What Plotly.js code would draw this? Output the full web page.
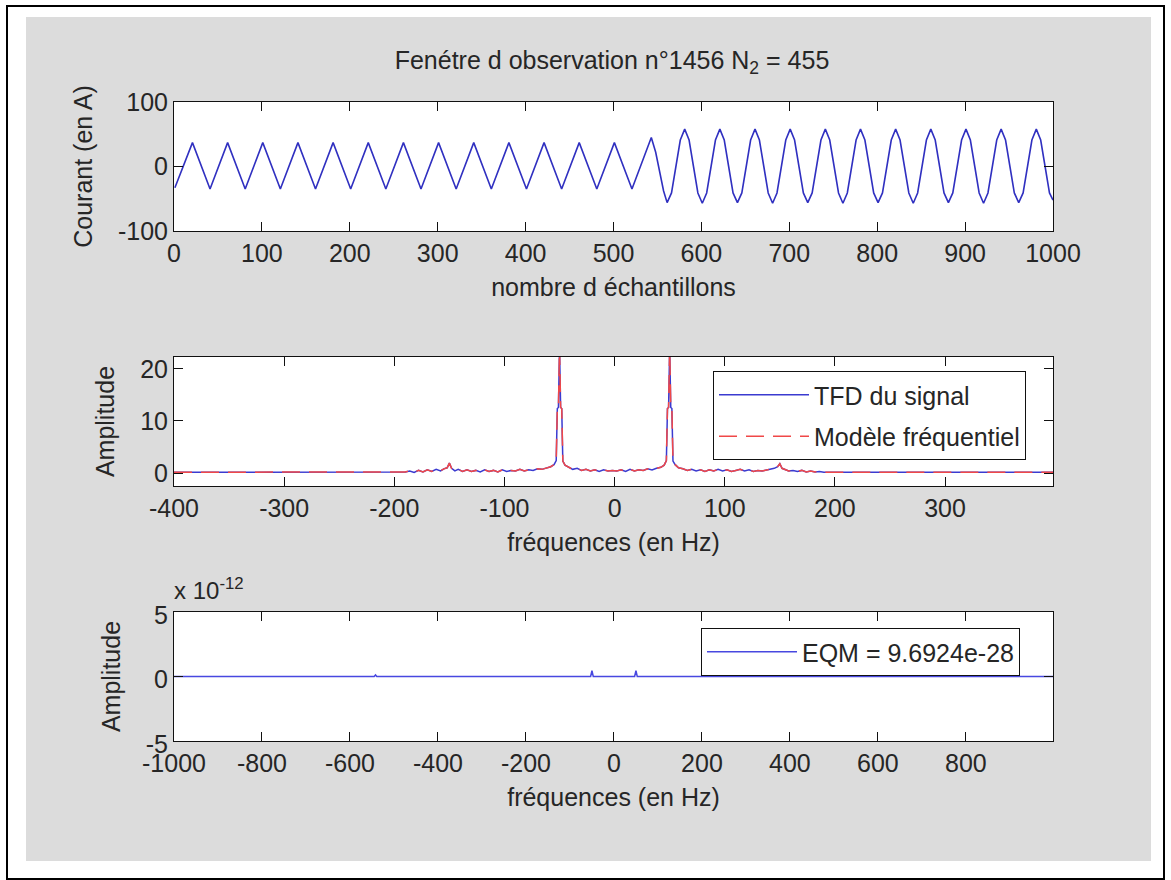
<!DOCTYPE html>
<html>
<head>
<meta charset="utf-8">
<script src="https://cdn.plot.ly/plotly-3.0.1.min.js"></script>
<style>html,body{margin:0;padding:0;background:#fff;}</style>
</head>
<body>
<div id="chart" style="width:1171px;height:880px;"></div>
<script>
// ---- Signal (top): sample index / current (A), vertices
const sigN = [1,21,41,61,81,101,121,141,161,181,201,221,241,261,281,301,321,341,361,381,401,421,441,461,481,501,521,541,543,548,553,557,
  561,566,571,576,581,586,591,596,
  601,606,611,616,621,626,631,636,
  641,646,651,656,661,666,671,676,
  681,686,691,696,701,706,711,716,
  721,726,731,736,741,746,751,756,
  761,766,771,776,781,786,791,796,
  801,806,811,816,821,826,831,836,
  841,846,851,856,861,866,871,876,
  881,886,891,896,901,906,911,916,
  921,926,931,936,941,946,951,956,
  961,966,971,976,981,986,991,996,1000];
const sigA = [-33,37,-35,37,-35,37,-35,37,-35,37,-35,37,-35,37,-35,37,-35,37,-35,37,-35,37,-35,37,-35,37,-35,38,45,22,-10,-38,
  -56,-41,0,41,58,41,0,-41,
  -57,-41,0,41,58,41,0,-41,
  -56,-41,0,41,58,41,0,-41,
  -57,-41,0,41,58,41,0,-41,
  -56,-41,0,41,58,41,0,-41,
  -57,-41,0,41,58,41,0,-41,
  -56,-41,0,41,58,41,0,-41,
  -57,-41,0,41,58,41,0,-41,
  -56,-41,0,41,58,41,0,-41,
  -57,-41,0,41,58,41,0,-41,
  -56,-41,0,41,58,41,0,-41,-52];

// ---- Spectrum (middle): frequency (Hz) / amplitude
const specF = [-400,-190,-186,-182,-178,-174,-170,-166,-162,-158,-155,-152,-150,-148,-145,-142,-138,-134,-130,-126,-122,-118,-114,-110,-106,-102,-98,-94,-90,-86,-82,-78,-74,-70,-66,-62,-58,-55,-53,-52,-51,-50,-49,-48,-47,-45,-42,-38,-34,-30,-26,-22,-18,-14,-10,-6,-2,2,6,10,14,18,22,26,30,34,38,42,45,47,48,49,50,51,52,53,55,58,62,66,70,74,78,82,86,90,94,98,102,106,110,114,118,122,126,130,134,138,142,145,148,150,152,155,158,162,166,170,174,178,182,186,190,398];
const tfdAmp = [0.15,0.2,0.4,0.1,0.5,0.2,0.6,0.3,0.7,0.4,0.8,1.0,1.9,0.9,0.4,0.7,0.3,0.6,0.3,0.5,0.2,0.6,0.3,0.5,0.2,0.6,0.3,0.5,0.4,0.7,0.4,0.6,0.5,0.8,0.7,1.0,1.2,1.6,2.4,12.4,12.6,24,12.6,12.4,2.3,1.5,1.1,0.7,0.9,0.5,0.7,0.4,0.6,0.3,0.6,0.4,0.5,0.4,0.6,0.3,0.7,0.4,0.6,0.5,0.8,0.6,0.9,1.1,1.5,2.4,12.4,12.6,24,12.6,12.4,2.3,1.6,1.0,0.8,0.5,0.7,0.4,0.6,0.3,0.6,0.4,0.7,0.4,0.6,0.3,0.5,0.7,0.4,0.6,0.3,0.5,0.4,0.6,0.7,0.9,1.2,1.8,0.9,0.6,0.4,0.5,0.3,0.5,0.2,0.4,0.2,0.3,0.15,0.15];
// the model matches the DFT (EQM ~ 1e-27), same values
const modeleAmp = [0.15,0.2,0.4,0.1,0.5,0.2,0.6,0.3,0.7,0.4,0.8,1.0,1.9,0.9,0.4,0.7,0.3,0.6,0.3,0.5,0.2,0.6,0.3,0.5,0.2,0.6,0.3,0.5,0.4,0.7,0.4,0.6,0.5,0.8,0.7,1.0,1.2,1.6,2.4,12.4,12.6,24,12.6,12.4,2.3,1.5,1.1,0.7,0.9,0.5,0.7,0.4,0.6,0.3,0.6,0.4,0.5,0.4,0.6,0.3,0.7,0.4,0.6,0.5,0.8,0.6,0.9,1.1,1.5,2.4,12.4,12.6,24,12.6,12.4,2.3,1.6,1.0,0.8,0.5,0.7,0.4,0.6,0.3,0.6,0.4,0.7,0.4,0.6,0.3,0.5,0.7,0.4,0.6,0.3,0.5,0.4,0.6,0.7,0.9,1.2,1.8,0.9,0.6,0.4,0.5,0.3,0.5,0.2,0.4,0.2,0.3,0.15,0.15];

// ---- Error spectrum (bottom): frequency (Hz) / amplitude in units of 1e-12
const errF = [-1000,-545,-542,-539,-53,-50,-47,47,50,53,998];
const errA = [0,0,0.12,0,0,0.45,0,0,0.45,0,0];

// ---- Tick values and labels (MATLAB style hyphen-minus)
const topXTicks = [0,100,200,300,400,500,600,700,800,900,1000];
const topXLabels = ['0','100','200','300','400','500','600','700','800','900','1000'];
const topYTicks = [-100,0,100];
const topYLabels = ['-100','0','100'];
const midXTicks = [-400,-300,-200,-100,0,100,200,300];
const midXLabels = ['-400','-300','-200','-100','0','100','200','300'];
const midYTicks = [0,10,20];
const midYLabels = ['0','10','20'];
const botXTicks = [-1000,-800,-600,-400,-200,0,200,400,600,800];
const botXLabels = ['-1000','-800','-600','-400','-200','0','200','400','600','800'];
const botYTicks = [-5,0,5];
const botYLabels = ['-5','0','5'];

const W = 1171, H = 880;
const FONT = '"Liberation Sans", Arial, sans-serif';
const FS = 25;
const TXT = '#262626';
const px = v => v / W;
const py = v => 1 - v / H;

function xax(range, ticks, labels, title, anchor) {
  return {
    domain: [px(174), px(1053)], range: range, anchor: anchor,
    tickmode: 'array', tickvals: ticks, ticktext: labels,
    ticks: 'inside', ticklen: 9, tickcolor: '#111', tickwidth: 1,
    mirror: 'ticks', showline: true, linecolor: '#111', linewidth: 1,
    showgrid: false, zeroline: false, tickfont: {family: FONT, size: FS, color: TXT},
    title: {text: title, font: {family: FONT, size: FS, color: TXT}, standoff: 12}
  };
}
function yax(range, ticks, labels, title, dom, anchor) {
  return {
    domain: dom, range: range, anchor: anchor,
    tickmode: 'array', tickvals: ticks, ticktext: labels,
    ticks: 'inside', ticklen: 9, tickcolor: '#111', tickwidth: 1,
    mirror: 'ticks', showline: true, linecolor: '#111', linewidth: 1,
    showgrid: false, zeroline: false, tickfont: {family: FONT, size: FS, color: TXT},
    title: {text: title, font: {family: FONT, size: FS, color: TXT}, standoff: 18}
  };
}

const traces = [
  {x: sigN, y: sigA, xaxis: 'x', yaxis: 'y', mode: 'lines', showlegend: false,
   line: {color: '#3030c0', width: 1.6}},
  {x: specF, y: tfdAmp, xaxis: 'x2', yaxis: 'y2', mode: 'lines', name: 'TFD du signal',
   legend: 'legend', legendgroup: 'a', line: {color: '#3b3bd0', width: 1.5}},
  {x: specF, y: modeleAmp, xaxis: 'x2', yaxis: 'y2', mode: 'lines', name: 'Modèle fréquentiel',
   legend: 'legend', legendgroup: 'b', line: {color: '#f04848', width: 1.5, dash: '18px,9px'}},
  {x: errF, y: errA, xaxis: 'x3', yaxis: 'y3', mode: 'lines', name: 'EQM = 9.6924e-28',
   legend: 'legend2', line: {color: '#4848e0', width: 1.5}}
];

const yax3 = yax([-5, 5], botYTicks, botYLabels, 'Amplitude', [py(741), py(612)], 'x3');
yax3.ticklabelshift = 3;

const layout = {
  width: W, height: H, margin: {l: 0, r: 0, t: 0, b: 0},
  paper_bgcolor: '#dcdcdc', plot_bgcolor: '#ffffff',
  font: {family: FONT, size: FS, color: TXT},
  title: {text: 'Fenétre d observation n°1456 N<sub>2</sub> = 455', x: px(612), xanchor: 'center',
          y: py(60), yanchor: 'middle', font: {family: FONT, size: FS, color: TXT}},
  xaxis: xax([0, 1000], topXTicks, topXLabels, 'nombre d échantillons', 'y'),
  yaxis: yax([-100, 100], topYTicks, topYLabels, 'Courant (en A)', [py(231), py(102)], 'x'),
  xaxis2: xax([-400, 398], midXTicks, midXLabels, 'fréquences (en Hz)', 'y2'),
  yaxis2: yax([-2.5, 22.3], midYTicks, midYLabels, 'Amplitude', [py(486), py(357)], 'x2'),
  xaxis3: xax([-1000, 998], botXTicks, botXLabels, 'fréquences (en Hz)', 'y3'),
  yaxis3: yax3,
  legend: {x: px(713), y: py(371), xanchor: 'left', yanchor: 'top', bgcolor: '#ffffff',
           bordercolor: '#111', borderwidth: 1, itemwidth: 90, tracegroupgap: 6,
           font: {family: FONT, size: FS, color: TXT}},
  legend2: {x: px(701), y: py(676), xanchor: 'left', yanchor: 'bottom', bgcolor: '#ffffff',
            bordercolor: '#111', borderwidth: 1, itemwidth: 90,
            font: {family: FONT, size: FS, color: TXT}},
  annotations: [
    {text: 'x 10<sup>-12</sup>', xref: 'paper', yref: 'paper', x: px(172), y: py(606),
     xanchor: 'left', yanchor: 'bottom', showarrow: false, font: {family: FONT, size: FS - 1, color: TXT}}
  ],
  shapes: [
    // white outer margins around the grey figure area
    {type: 'rect', xref: 'paper', yref: 'paper', x0: 0, x1: 1, y0: py(17), y1: 1, fillcolor: '#fff', line: {width: 0}},
    {type: 'rect', xref: 'paper', yref: 'paper', x0: 0, x1: 1, y0: 0, y1: py(861), fillcolor: '#fff', line: {width: 0}},
    {type: 'rect', xref: 'paper', yref: 'paper', x0: 0, x1: px(26), y0: 0, y1: 1, fillcolor: '#fff', line: {width: 0}},
    {type: 'rect', xref: 'paper', yref: 'paper', x0: px(1151), x1: 1, y0: 0, y1: 1, fillcolor: '#fff', line: {width: 0}},
    // black frame
    {type: 'rect', xref: 'paper', yref: 'paper', x0: px(7), x1: px(1164), y0: py(879), y1: py(6),
     fillcolor: 'rgba(0,0,0,0)', line: {color: '#000', width: 2}}
  ]
};

Plotly.newPlot('chart', traces, layout, {staticPlot: true, displayModeBar: false});
</script>
</body>
</html>
